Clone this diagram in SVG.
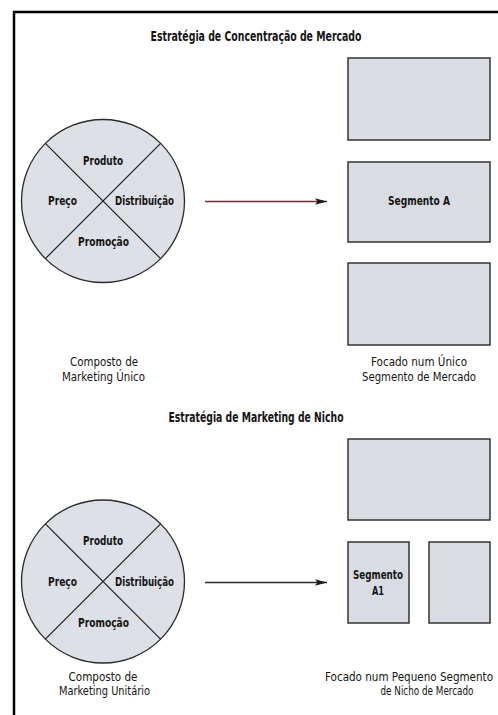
<svg xmlns="http://www.w3.org/2000/svg" width="498" height="715" viewBox="0 0 498 715">
  <style>
    .frame { fill: none; stroke: #000; stroke-width: 2.5; }
    .mix { fill: #dde0e6; stroke: #2a2a2a; stroke-width: 1.3; }
    .cut { stroke: #1e1e1e; stroke-width: 1.2; }
    .seg { fill: #d9dce2; stroke: #333; stroke-width: 1.5; }
    text { font-family: "Liberation Sans Narrow", "DejaVu Sans Condensed", "Liberation Sans", sans-serif; fill: #141414; }
    .title { font-size: 13.5px; font-weight: bold; text-anchor: middle; }
    .lab { font-size: 12px; font-weight: bold; text-anchor: middle; }
    .cap { font-size: 12.5px; text-anchor: middle; }
    .cap-long { font-size: 11.5px; text-anchor: start; }
  </style>
  <defs>
    <marker id="head" viewBox="0 0 12 8" refX="12" refY="4" markerWidth="12" markerHeight="8" markerUnits="userSpaceOnUse" orient="auto">
      <path d="M0,0.8 L12,4 L0,7.2 L2.5,4 Z" fill="#1a1a1a"/>
    </marker>
  </defs>

  <rect width="498" height="715" fill="#fff"/>
  <path class="frame" d="M14,715 V12 H498"/>

  <!-- section 1: concentrated market strategy -->
  <text class="title" x="256" y="41" textLength="211" lengthAdjust="spacingAndGlyphs">Estratégia de Concentração de Mercado</text>

  <g id="mix-single">
    <circle class="mix" cx="103" cy="201" r="81.5"/>
    <line class="cut" x1="45.4" y1="143.4" x2="160.6" y2="258.6"/>
    <line class="cut" x1="160.6" y1="143.4" x2="45.4" y2="258.6"/>
    <text class="lab" x="103" y="165" textLength="40" lengthAdjust="spacingAndGlyphs">Produto</text>
    <text class="lab" x="62.5" y="205" textLength="29" lengthAdjust="spacingAndGlyphs">Preço</text>
    <text class="lab" x="144.5" y="205" textLength="59" lengthAdjust="spacingAndGlyphs">Distribuição</text>
    <text class="lab" x="103.5" y="246" textLength="51" lengthAdjust="spacingAndGlyphs">Promoção</text>
  </g>
  <g id="caption-mix-single">
    <text class="cap" x="104" y="366" textLength="68" lengthAdjust="spacingAndGlyphs">Composto de</text>
    <text class="cap" x="103.5" y="381" textLength="83" lengthAdjust="spacingAndGlyphs">Marketing Único</text>
  </g>

  <g id="segment-top">
    <rect class="seg" x="348" y="58" width="142" height="82"/>
  </g>
  <g id="segment-a">
    <rect class="seg" x="348" y="162" width="142" height="80"/>
    <text class="lab" x="419" y="205" textLength="62" lengthAdjust="spacingAndGlyphs">Segmento A</text>
  </g>
  <g id="segment-bottom">
    <rect class="seg" x="348" y="263" width="142" height="82"/>
  </g>
  <g id="caption-focus-single">
    <text class="cap" x="419" y="366" textLength="96" lengthAdjust="spacingAndGlyphs">Focado num Único</text>
    <text class="cap" x="419" y="381" textLength="114" lengthAdjust="spacingAndGlyphs">Segmento de Mercado</text>
  </g>

  <!-- section 2: niche marketing strategy -->
  <text class="title" x="256" y="422" textLength="175" lengthAdjust="spacingAndGlyphs">Estratégia de Marketing de Nicho</text>

  <g id="mix-unit">
    <circle class="mix" cx="103" cy="581.5" r="81.5"/>
    <line class="cut" x1="45.4" y1="523.9" x2="160.6" y2="639.1"/>
    <line class="cut" x1="160.6" y1="523.9" x2="45.4" y2="639.1"/>
    <text class="lab" x="103" y="545" textLength="40" lengthAdjust="spacingAndGlyphs">Produto</text>
    <text class="lab" x="62.5" y="586" textLength="29" lengthAdjust="spacingAndGlyphs">Preço</text>
    <text class="lab" x="144.5" y="586" textLength="59" lengthAdjust="spacingAndGlyphs">Distribuição</text>
    <text class="lab" x="103.5" y="627" textLength="51" lengthAdjust="spacingAndGlyphs">Promoção</text>
  </g>
  <g id="caption-mix-unit">
    <text class="cap" x="103" y="681" textLength="69" lengthAdjust="spacingAndGlyphs">Composto de</text>
    <text class="cap" x="104.5" y="695" textLength="91" lengthAdjust="spacingAndGlyphs">Marketing Unitário</text>
  </g>

  <g id="niche-top">
    <rect class="seg" x="348" y="439" width="142" height="81"/>
  </g>
  <g id="niche-a1">
    <rect class="seg" x="348" y="542" width="61" height="81"/>
    <text class="lab" x="378" y="579" textLength="50" lengthAdjust="spacingAndGlyphs">Segmento</text>
    <text class="lab" x="378" y="595" textLength="12" lengthAdjust="spacingAndGlyphs">A1</text>
  </g>
  <g id="niche-other">
    <rect class="seg" x="429" y="542" width="61" height="81"/>
  </g>
  <g id="caption-focus-niche">
    <text class="cap-long" x="325" y="681" textLength="168" lengthAdjust="spacingAndGlyphs">Focado num Pequeno Segmento</text>
    <text class="cap" x="427" y="695" textLength="93" lengthAdjust="spacingAndGlyphs">de Nicho de Mercado</text>
  </g>

  <!-- connectors -->
  <g id="connectors" fill="none" stroke-width="1.3">
    <line x1="205" y1="201.5" x2="327" y2="201.5" stroke="#6b2e2e" marker-end="url(#head)"/>
    <line x1="205" y1="582.5" x2="327" y2="582.5" stroke="#2a2a2a" marker-end="url(#head)"/>
  </g>
</svg>
